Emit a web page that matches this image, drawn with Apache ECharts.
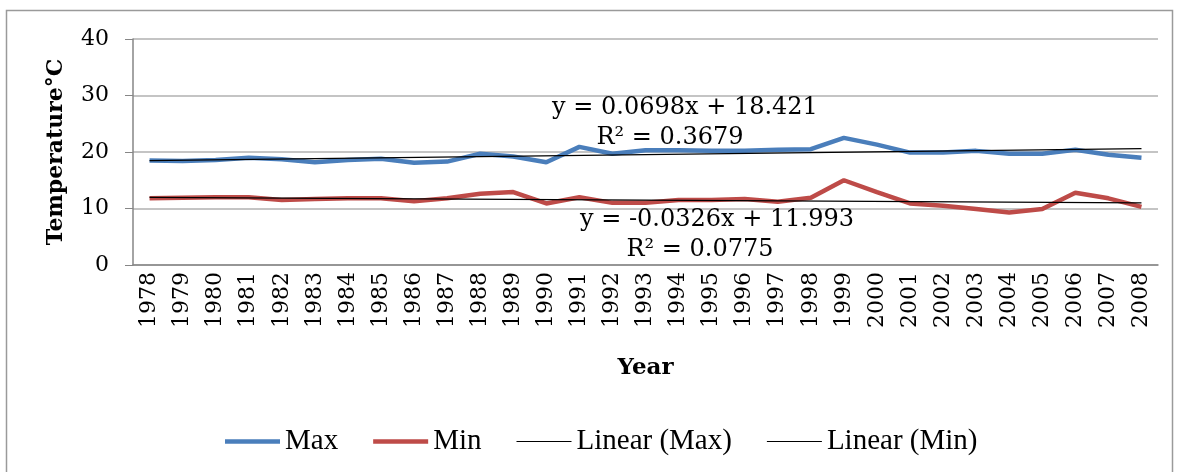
<!DOCTYPE html>
<html>
<head>
<meta charset="utf-8">
<script src="https://cdn.jsdelivr.net/npm/echarts@6/dist/echarts.min.js"></script>
<style>html,body{margin:0;padding:0;background:#fff}#c{width:1180px;height:472px}</style>
</head>
<body>
<div id="c"></div>
<script>
var years = ['1978','1979','1980','1981','1982','1983','1984','1985','1986','1987','1988','1989','1990','1991','1992','1993','1994','1995','1996','1997','1998','1999','2000','2001','2002','2003','2004','2005','2006','2007','2008'];
var maxTemp = [18.5,18.4,18.6,19.0,18.7,18.2,18.6,18.8,18.1,18.3,19.7,19.2,18.2,20.9,19.7,20.3,20.3,20.2,20.2,20.4,20.5,22.5,21.3,19.9,19.9,20.2,19.7,19.7,20.4,19.5,19.0];
var minTemp = [11.8,11.9,12.0,12.0,11.5,11.7,11.8,11.8,11.3,11.8,12.6,12.9,10.9,12.0,11.0,11.0,11.5,11.5,11.7,11.2,11.9,15.0,12.9,10.9,10.5,9.9,9.3,9.9,12.8,11.8,10.3];
var trendMaxEnds = [18.49, 20.58];
var trendMinEnds = [11.96, 10.98];
var yTicks = [0,10,20,30,40];
var seriesNames = ['Max','Min','Linear (Max)','Linear (Min)'];
var eqMax = 'y = 0.0698x + 18.421', r2Max = 'R\u00b2 = 0.3679';
var eqMin = 'y = -0.0326x + 11.993', r2Min = 'R\u00b2 = 0.0775';

var serif = '"DejaVu Serif", serif';
var chart = echarts.init(document.getElementById('c'), null, {renderer:'canvas'});
var thick = 'path://M0,0H110V9H0Z', thin = 'path://M0,0H110V2.2H0Z';
chart.setOption({
  animation:false,
  grid:{left:133, right:22, top:39, bottom:207, containLabel:false},
  graphic:[
    {type:'rect', shape:{x:6.5, y:10.5, width:1166, height:470}, style:{fill:'none', stroke:'#9a9a9a', lineWidth:1.5}, z:-1},
    {type:'text', x:685, y:108, style:{text:eqMax, font:'24px '+serif, fill:'#000', align:'center', verticalAlign:'middle'}, z:100},
    {type:'text', x:670, y:138, style:{text:r2Max, font:'24px '+serif, fill:'#000', align:'center', verticalAlign:'middle'}, z:100},
    {type:'text', x:717, y:220, style:{text:eqMin, font:'24px '+serif, fill:'#000', align:'center', verticalAlign:'middle'}, z:100},
    {type:'text', x:700, y:250, style:{text:r2Min, font:'24px '+serif, fill:'#000', align:'center', verticalAlign:'middle'}, z:100}
  ],
  legend:{
    data:[
      {name:seriesNames[0], icon:thick},
      {name:seriesNames[1], icon:thick},
      {name:seriesNames[2], icon:thin},
      {name:seriesNames[3], icon:thin}
    ],
    left:220, top:422, itemWidth:55, itemHeight:14, itemGap:35,
    textStyle:{fontFamily:'"Liberation Serif", serif', fontSize:29, color:'#000'}
  },
  xAxis:{
    type:'category', data:years, boundaryGap:true,
    name:'Year', nameLocation:'middle', nameGap:92,
    nameTextStyle:{fontFamily:serif, fontWeight:'bold', fontSize:23, color:'#000'},
    axisLine:{lineStyle:{color:'#868686', width:1.5}},
    axisTick:{length:7, lineStyle:{color:'#868686'}},
    axisLabel:{rotate:90, margin:7, fontFamily:serif, fontSize:22, color:'#000', interval:0}
  },
  yAxis:{
    type:'value', min:0, max:40, interval:10,
    name:'Temperature\u00b0C', nameLocation:'middle', nameGap:66, nameRotate:90,
    nameTextStyle:{fontFamily:serif, fontWeight:'bold', fontSize:22, color:'#000'},
    axisLine:{show:true, lineStyle:{color:'#868686', width:1.5}},
    axisTick:{show:true, length:8, lineStyle:{color:'#868686'}},
    axisLabel:{margin:24, fontFamily:serif, fontSize:22, color:'#000',
      formatter:function(v){return yTicks.indexOf(v)>=0? String(v):'';}},
    splitLine:{lineStyle:{color:'#b0b0b0', width:1.5}}
  },
  series:[
    {name:seriesNames[0], type:'line', data:maxTemp, symbol:'none', lineStyle:{color:'#4a7ebb', width:4.5}, itemStyle:{color:'#4a7ebb'}},
    {name:seriesNames[1], type:'line', data:minTemp, symbol:'none', lineStyle:{color:'#be4b48', width:4.5}, itemStyle:{color:'#be4b48'}},
    {name:seriesNames[2], type:'line', data:[[years[0],trendMaxEnds[0]],[years[years.length-1],trendMaxEnds[1]]], symbol:'none', lineStyle:{color:'#000', width:1.2}, itemStyle:{color:'#000'}},
    {name:seriesNames[3], type:'line', data:[[years[0],trendMinEnds[0]],[years[years.length-1],trendMinEnds[1]]], symbol:'none', lineStyle:{color:'#000', width:1.2}, itemStyle:{color:'#000'}}
  ]
});
</script>
</body>
</html>
